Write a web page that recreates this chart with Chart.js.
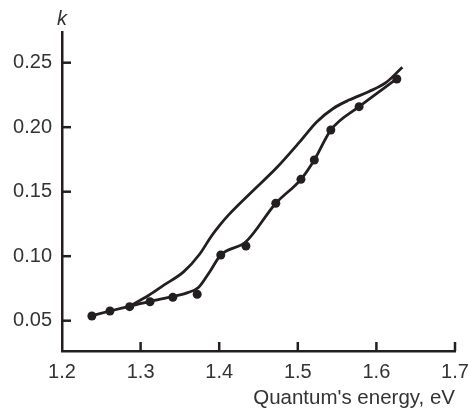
<!DOCTYPE html>
<html>
<head>
<meta charset="utf-8">
<script src="https://cdn.jsdelivr.net/npm/chart.js@4"></script>
<style>
html,body{margin:0;padding:0;background:#fff;}
#wrap{width:469px;height:412px;}
</style>
</head>
<body>
<div id="wrap"><canvas id="c" width="469" height="412"></canvas></div>
<script>
// Measured points (dots)
const dotEnergy = [1.238, 1.261, 1.286, 1.312, 1.341, 1.372, 1.402, 1.434, 1.472, 1.504, 1.521, 1.542, 1.578, 1.626];
const dotK      = [0.0536, 0.0575, 0.0609, 0.0647, 0.0681, 0.0705, 0.1009, 0.1079, 0.1410, 0.1596, 0.1746, 0.1978, 0.2159, 0.2374];
// Lower smooth curve through the dots
const lowerEnergy = [1.236, 1.261, 1.286, 1.312, 1.341, 1.360, 1.374, 1.388, 1.402, 1.434, 1.472, 1.504, 1.521, 1.542, 1.578, 1.627];
const lowerK      = [0.0536, 0.0575, 0.0612, 0.0650, 0.0688, 0.0718, 0.0760, 0.0880, 0.1009, 0.1112, 0.1410, 0.1596, 0.1746, 0.1978, 0.2159, 0.2380];
// Upper smooth curve
const upperEnergy = [1.286, 1.310, 1.330, 1.355, 1.375, 1.390, 1.400, 1.412, 1.440, 1.473, 1.503, 1.524, 1.545, 1.565, 1.590, 1.612, 1.633];
const upperK      = [0.0612, 0.0695, 0.0777, 0.0880, 0.1015, 0.1155, 0.1235, 0.1320, 0.1490, 0.1685, 0.1890, 0.2040, 0.2145, 0.2210, 0.2275, 0.2345, 0.2465];
// Axis ticks
const xTicks = [1.2, 1.3, 1.4, 1.5, 1.6, 1.7];
const yTicks = [0.05, 0.10, 0.15, 0.20, 0.25];
const xTitle = "Quantum's energy, eV";
const yTitle = "k";

const INK = '#231f20';
const TXT = '#333333';
const FONT = '"Liberation Sans", Arial, Helvetica, sans-serif';

const toXY = (xs, ys) => xs.map((x, i) => ({x: x, y: ys[i]}));

const tickPlugin = {
  id: 'innerTicks',
  afterDraw(chart) {
    const ctx = chart.ctx;
    const xs = chart.scales.x, ys = chart.scales.y;
    const a = chart.chartArea;
    ctx.save();
    ctx.strokeStyle = INK;
    ctx.lineWidth = 2.5;
    ctx.lineCap = 'butt';
    xTicks.forEach(v => {
      const px = xs.getPixelForValue(v);
      if (Math.abs(px - a.left) < 2) return;
      ctx.beginPath(); ctx.moveTo(px, a.bottom); ctx.lineTo(px, a.bottom - 9); ctx.stroke();
    });
    yTicks.forEach(v => {
      const py = ys.getPixelForValue(v);
      ctx.beginPath(); ctx.moveTo(a.left, py); ctx.lineTo(a.left + 9, py); ctx.stroke();
    });
    ctx.fillStyle = TXT;
    ctx.font = 'italic 20px ' + FONT;
    ctx.textAlign = 'center';
    ctx.textBaseline = 'alphabetic';
    ctx.fillText(yTitle, a.left, 25);
    ctx.restore();
  }
};

new Chart(document.getElementById('c'), {
  type: 'scatter',
  data: {
    datasets: [
      {
        data: toXY(upperEnergy, upperK),
        showLine: true, borderColor: INK, borderWidth: 2.8,
        pointRadius: 0, cubicInterpolationMode: 'monotone', fill: false
      },
      {
        data: toXY(lowerEnergy, lowerK),
        showLine: true, borderColor: INK, borderWidth: 2.8,
        pointRadius: 0, cubicInterpolationMode: 'monotone', fill: false
      },
      {
        data: toXY(dotEnergy, dotK),
        showLine: false, pointRadius: 4.5, pointBackgroundColor: INK,
        pointBorderColor: INK, pointBorderWidth: 0
      }
    ]
  },
  options: {
    responsive: false,
    animation: false,
    devicePixelRatio: 1,
    layout: {padding: {top: 32, right: 14, left: 0, bottom: 0}},
    plugins: {legend: {display: false}, tooltip: {enabled: false}},
    elements: {line: {borderCapStyle: 'butt'}},
    clip: false,
    scales: {
      x: {
        type: 'linear', min: 1.2, max: 1.7,
        afterBuildTicks: s => { s.ticks = xTicks.map(v => ({value: v})); },
        afterFit: s => { s.height = 61; s.paddingLeft = 0; s.paddingRight = 0; },
        grid: {display: false, drawTicks: false},
        border: {display: true, color: INK, width: 2.5},
        ticks: {color: TXT, padding: 9, maxRotation: 0, font: {family: FONT, size: 20},
                callback: v => Number(v).toFixed(1)},
        title: {display: true, text: xTitle, align: 'end', color: TXT,
                font: {family: FONT, size: 20.5}, padding: {top: 0, bottom: 1}}
      },
      y: {
        type: 'linear', min: 0.0265, max: 0.2738,
        afterBuildTicks: s => { s.ticks = yTicks.map(v => ({value: v})); },
        afterFit: s => { s.width = 62; s.paddingTop = 0; s.paddingBottom = 0; },
        grid: {display: false, drawTicks: false},
        border: {display: true, color: INK, width: 2.5},
        ticks: {color: TXT, padding: 10, font: {family: FONT, size: 20},
                callback: v => Number(v).toFixed(2)}
      }
    }
  },
  plugins: [tickPlugin]
});
</script>
</body>
</html>
